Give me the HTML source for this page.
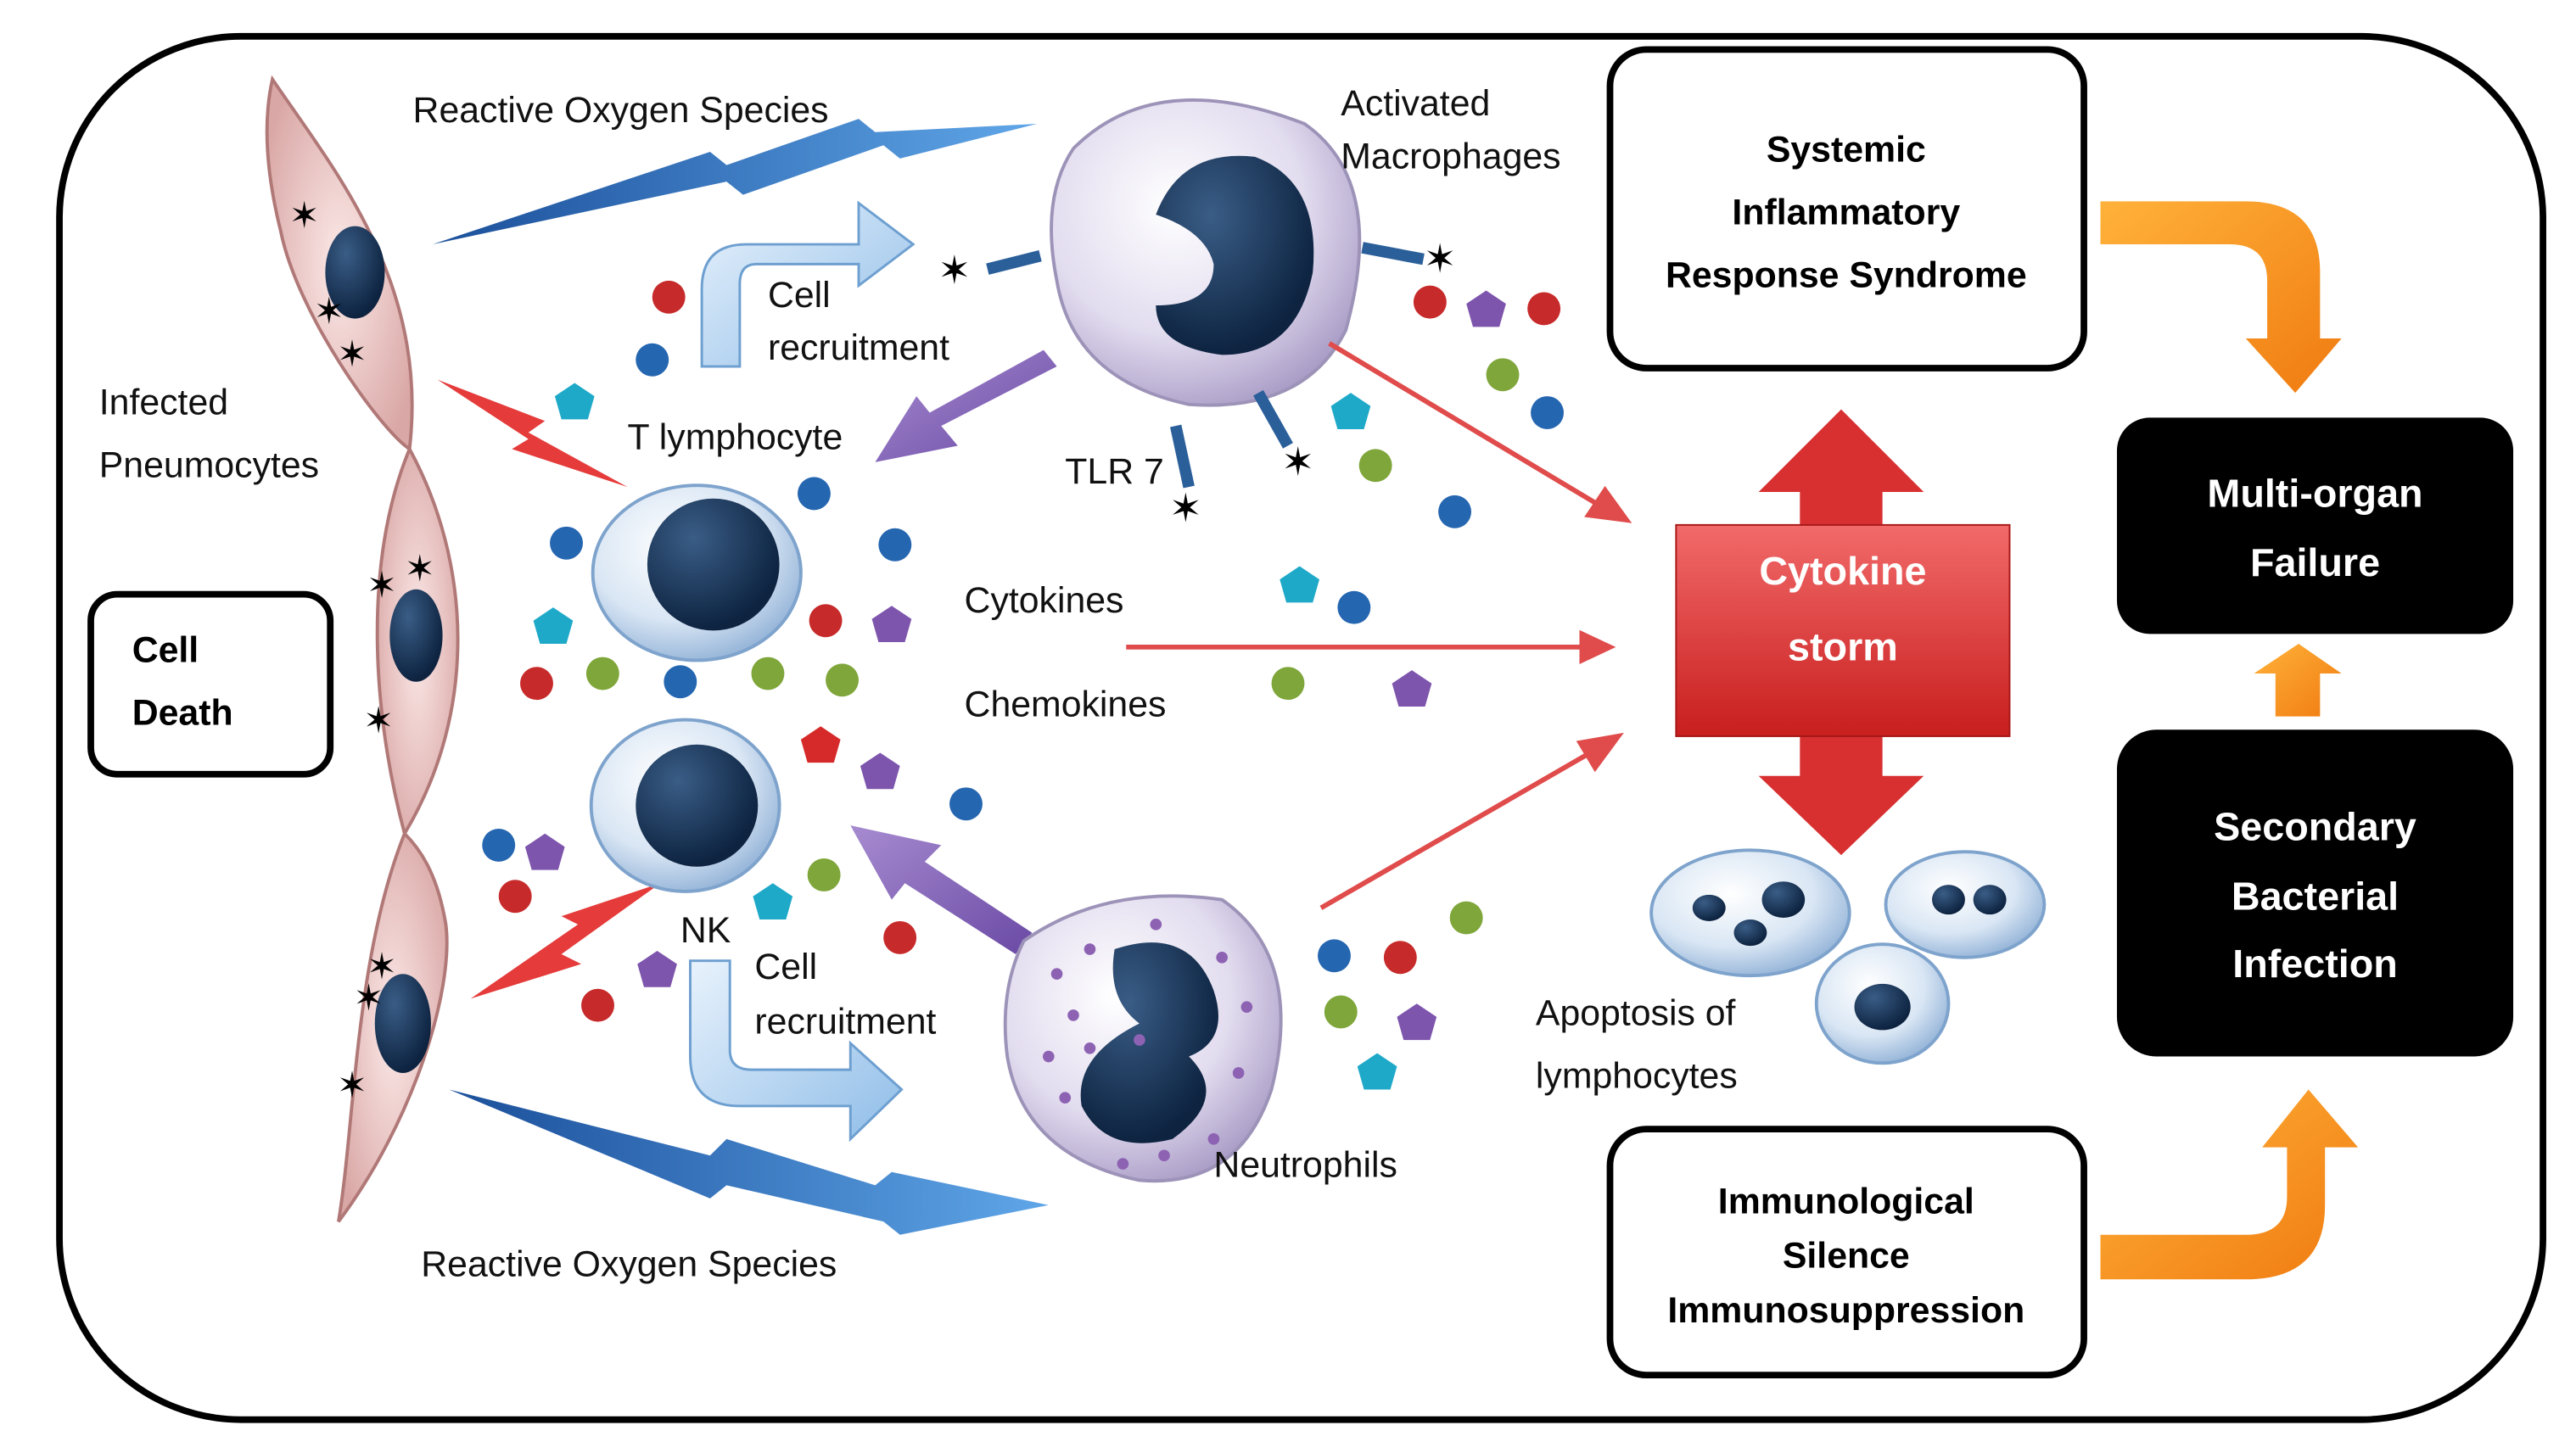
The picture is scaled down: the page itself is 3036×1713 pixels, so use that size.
<!DOCTYPE html>
<html><head><meta charset="utf-8"><style>
html,body{margin:0;padding:0;background:#fff}
svg{display:block}
text{font-family:"Liberation Sans",sans-serif}
</style></head><body>
<svg width="3036" height="1713" viewBox="0 0 1560 880.2" preserveAspectRatio="none" xmlns="http://www.w3.org/2000/svg">
<defs>
<radialGradient id="cellg" cx="40%" cy="35%" r="70%"><stop offset="0" stop-color="#fff"/><stop offset="0.6" stop-color="#d9e6f4"/><stop offset="1" stop-color="#8fb0d6"/></radialGradient>
<radialGradient id="macg" cx="40%" cy="35%" r="70%"><stop offset="0" stop-color="#fff"/><stop offset="0.6" stop-color="#e2dcef"/><stop offset="1" stop-color="#a99cc6"/></radialGradient>
<radialGradient id="pinkg" cx="50%" cy="50%" r="60%"><stop offset="0" stop-color="#fbe9e8"/><stop offset="1" stop-color="#d9a7a5"/></radialGradient>
<radialGradient id="nuc" cx="35%" cy="30%" r="70%"><stop offset="0" stop-color="#3a5d86"/><stop offset="1" stop-color="#0d2340"/></radialGradient>
<linearGradient id="redg" x1="0" y1="0" x2="0" y2="1"><stop offset="0" stop-color="#f26a6a"/><stop offset="1" stop-color="#c81e1e"/></linearGradient>
<linearGradient id="blueg" x1="0" y1="0" x2="1" y2="0"><stop offset="0" stop-color="#1b4f9a"/><stop offset="1" stop-color="#5fa6e8"/></linearGradient>
<linearGradient id="ltb" x1="0" y1="0" x2="1" y2="1"><stop offset="0" stop-color="#e8f2fc"/><stop offset="1" stop-color="#8fbde8"/></linearGradient>
<linearGradient id="org" x1="0" y1="0" x2="1" y2="1"><stop offset="0" stop-color="#ffb23a"/><stop offset="1" stop-color="#f07b10"/></linearGradient>
<linearGradient id="purp" x1="0" y1="0" x2="1" y2="1"><stop offset="0" stop-color="#a78bd0"/><stop offset="1" stop-color="#6a4aa5"/></linearGradient>
</defs>
<rect x="36" y="22" width="1504" height="838" rx="110" fill="#fff" stroke="#000" stroke-width="4"/>

<!-- pneumocytes -->
<g fill="url(#pinkg)" stroke="#b07877" stroke-width="2">
<path d="M165 48 C200 100 260 170 248 272 C230 260 180 190 170 140 C160 100 160 70 165 48Z"/>
<path d="M248 272 C285 340 290 430 245 505 C225 430 220 340 248 272Z"/>
<path d="M245 505 C215 580 215 680 205 740 C250 680 275 600 270 560 C265 530 255 515 245 505Z"/>
</g>
<g fill="url(#nuc)"><ellipse cx="215" cy="165" rx="18" ry="28"/><ellipse cx="252" cy="385" rx="16" ry="28"/><ellipse cx="244" cy="620" rx="17" ry="30"/></g>
<g font-size="22" fill="#000"><text x="175" y="138">✶</text><text x="190" y="196">✶</text><text x="204" y="222">✶</text><text x="222" y="362">✶</text><text x="245" y="352">✶</text><text x="220" y="444">✶</text><text x="222" y="593">✶</text><text x="214" y="612">✶</text><text x="204" y="665">✶</text></g>

<!-- ROS bolts -->
<path d="M262 148 L430 92 L440 100 L520 72 L530 80 L628 75 L545 96 L535 88 L450 118 L440 110Z" fill="url(#blueg)"/>
<path d="M272 660 L430 700 L440 690 L530 718 L540 710 L635 730 L545 748 L535 740 L440 718 L430 726Z" fill="url(#blueg)"/>

<!-- lightning -->
<path d="M265 230 L330 255 L320 262 L380 295 L310 272 L320 266Z" fill="#e53b3b"/>
<path d="M285 605 L350 560 L340 555 L400 535 L340 578 L352 584Z" fill="#e53b3b"/>

<!-- cell recruitment arrows -->
<path d="M425 222 L425 175 Q425 148 452 148 L520 148 L520 123 L553 148 L520 173 L520 160 L458 160 Q448 160 448 172 L448 222Z" fill="url(#ltb)" stroke="#6d9fd0" stroke-width="1.5"/>
<path d="M418 582 L418 640 Q418 670 448 670 L515 670 L515 690 L546 660 L515 632 L515 648 L455 648 Q442 648 442 636 L442 582Z" fill="url(#ltb)" stroke="#6d9fd0" stroke-width="1.5"/>

<!-- purple arrows -->
<path d="M640 222 L570 258 L580 270 L530 280 L555 240 L563 250 L632 212Z" fill="url(#purp)"/>
<path d="M625 565 L560 522 L570 512 L515 500 L540 545 L548 535 L615 578Z" fill="url(#purp)"/>

<!-- macrophage -->
<path d="M650 90 Q700 40 790 75 Q840 110 815 200 Q790 250 720 245 Q650 230 640 170 Q630 120 650 90Z" fill="url(#macg)" stroke="#9d93b8" stroke-width="2"/>
<path d="M700 130 Q715 90 760 95 Q800 110 795 165 Q785 215 740 215 Q700 210 700 185 Q735 185 735 160 Q730 140 700 130Z" fill="url(#nuc)"/>
<g stroke="#2b5f9a" stroke-width="7"><line x1="630" y1="155" x2="598" y2="163"/><line x1="825" y1="150" x2="862" y2="157"/><line x1="712" y1="258" x2="720" y2="295"/><line x1="762" y1="238" x2="780" y2="270"/></g>
<g font-size="24"><text x="568" y="172">✶</text><text x="862" y="165">✶</text><text x="708" y="316">✶</text><text x="776" y="288">✶</text></g>

<!-- T lymphocyte -->
<ellipse cx="422" cy="347" rx="63" ry="53" fill="url(#cellg)" stroke="#7ea3cc" stroke-width="2"/>
<circle cx="432" cy="342" r="40" fill="url(#nuc)"/>
<!-- NK -->
<ellipse cx="415" cy="488" rx="57" ry="52" fill="url(#cellg)" stroke="#7ea3cc" stroke-width="2"/>
<circle cx="422" cy="488" r="37" fill="url(#nuc)"/>
<!-- neutrophil -->
<path d="M620 570 Q670 535 740 545 Q790 580 770 660 Q750 720 690 715 Q620 700 610 640 Q605 600 620 570Z" fill="url(#macg)" stroke="#9d93b8" stroke-width="2"/>
<path d="M675 575 Q720 560 735 600 Q745 630 720 640 Q745 665 710 690 Q670 700 655 670 Q650 640 690 620 Q670 605 675 575Z" fill="url(#nuc)"/>
<g fill="#8d62b3">
<circle cx="640" cy="590" r="3.5"/><circle cx="660" cy="575" r="3.5"/><circle cx="650" cy="615" r="3.5"/><circle cx="635" cy="640" r="3.5"/><circle cx="660" cy="635" r="3.5"/><circle cx="740" cy="580" r="3.5"/><circle cx="755" cy="610" r="3.5"/><circle cx="750" cy="650" r="3.5"/><circle cx="735" cy="690" r="3.5"/><circle cx="705" cy="700" r="3.5"/><circle cx="680" cy="705" r="3.5"/><circle cx="690" cy="630" r="3.5"/><circle cx="645" cy="665" r="3.5"/><circle cx="700" cy="560" r="3.5"/></g>

<!-- apoptotic cells -->
<g fill="url(#cellg)" stroke="#7ea3cc" stroke-width="2">
<ellipse cx="1060" cy="553" rx="60" ry="38"/><ellipse cx="1190" cy="548" rx="48" ry="32"/><ellipse cx="1140" cy="608" rx="40" ry="36"/></g>
<g fill="url(#nuc)"><ellipse cx="1035" cy="550" rx="10" ry="8"/><ellipse cx="1080" cy="545" rx="13" ry="11"/><ellipse cx="1060" cy="565" rx="10" ry="8"/><ellipse cx="1180" cy="545" rx="10" ry="9"/><ellipse cx="1205" cy="545" rx="10" ry="9"/><ellipse cx="1140" cy="610" rx="17" ry="14"/></g>

<!-- red thin arrows -->
<g stroke="#e04b4b" stroke-width="3" fill="#e04b4b">
<line x1="805" y1="208" x2="975" y2="310"/><path d="M985 315 L962 312 L972 297Z"/>
<line x1="682" y1="392" x2="965" y2="392"/><path d="M975 392 L958 384 L958 400Z"/>
<line x1="800" y1="550" x2="970" y2="452"/><path d="M980 446 L957 450 L966 465Z"/>
</g>

<!-- Cytokine storm -->
<path d="M1115 248 L1165 298 L1140 298 L1140 470 L1165 470 L1115 518 L1065 470 L1090 470 L1090 298 L1065 298Z" fill="#d83030"/>
<rect x="1015" y="318" width="202" height="128" fill="url(#redg)" stroke="#a81818"/>
<text x="1116" y="354" font-size="24" font-weight="bold" fill="#fff" text-anchor="middle">Cytokine</text>
<text x="1116" y="400" font-size="24" font-weight="bold" fill="#fff" text-anchor="middle">storm</text>

<!-- molecules -->
<g stroke="none">
<g fill="#c72a2a"><circle cx="405" cy="180" r="10"/><circle cx="866" cy="183" r="10"/><circle cx="935" cy="187" r="10"/><circle cx="500" cy="376" r="10"/><circle cx="325" cy="414" r="10"/><circle cx="312" cy="543" r="10"/><circle cx="545" cy="568" r="10"/><circle cx="362" cy="609" r="10"/><circle cx="848" cy="580" r="10"/></g>
<g fill="#2566b0"><circle cx="395" cy="218" r="10"/><circle cx="937" cy="250" r="10"/><circle cx="881" cy="310" r="10"/><circle cx="493" cy="299" r="10"/><circle cx="542" cy="330" r="10"/><circle cx="343" cy="329" r="10"/><circle cx="412" cy="413" r="10"/><circle cx="820" cy="368" r="10"/><circle cx="585" cy="487" r="10"/><circle cx="302" cy="512" r="10"/><circle cx="808" cy="579" r="10"/></g>
<g fill="#7fa63a"><circle cx="910" cy="227" r="10"/><circle cx="833" cy="282" r="10"/><circle cx="365" cy="408" r="10"/><circle cx="465" cy="408" r="10"/><circle cx="510" cy="412" r="10"/><circle cx="780" cy="414" r="10"/><circle cx="499" cy="530" r="10"/><circle cx="888" cy="556" r="10"/><circle cx="812" cy="613" r="10"/></g>
</g>
<g fill="#1ea9c9"><polygon points="348,232 360,240 356,254 340,254 336,240"/><polygon points="818,238 830,246 826,260 810,260 806,246"/><polygon points="335,368 347,376 343,390 327,390 323,376"/><polygon points="787,343 799,351 795,365 779,365 775,351"/><polygon points="468,535 480,543 476,557 460,557 456,543"/><polygon points="834,638 846,646 842,660 826,660 822,646"/></g>
<g fill="#7e55ad"><polygon points="900,176 912,184 908,198 892,198 888,184"/><polygon points="540,367 552,375 548,389 532,389 528,375"/><polygon points="533,456 545,464 541,478 525,478 521,464"/><polygon points="330,505 342,513 338,527 322,527 318,513"/><polygon points="398,576 410,584 406,598 390,598 386,584"/><polygon points="855,406 867,414 863,428 847,428 843,414"/><polygon points="858,608 870,616 866,630 850,630 846,616"/></g>
<polygon points="497,440 509,448 505,462 489,462 485,448" fill="#d62a2a"/>

<!-- labels -->
<g font-size="22" fill="#111">
<text x="250" y="74">Reactive Oxygen Species</text>
<text x="255" y="773">Reactive Oxygen Species</text>
<text x="812" y="70">Activated</text><text x="812" y="102">Macrophages</text>
<text x="465" y="186">Cell</text><text x="465" y="218">recruitment</text>
<text x="457" y="593">Cell</text><text x="457" y="626">recruitment</text>
<text x="60" y="251">Infected</text><text x="60" y="289">Pneumocytes</text>
<text x="380" y="272">T lymphocyte</text>
<text x="645" y="293">TLR 7</text>
<text x="584" y="371">Cytokines</text>
<text x="584" y="434">Chemokines</text>
<text x="412" y="571">NK</text>
<text x="735" y="713">Neutrophils</text>
<text x="930" y="621">Apoptosis of</text><text x="930" y="659">lymphocytes</text>
</g>

<!-- boxes -->
<rect x="55" y="360" width="145" height="109" rx="16" fill="#fff" stroke="#000" stroke-width="4"/>
<g font-size="22" font-weight="bold"><text x="80" y="401">Cell</text><text x="80" y="439">Death</text></g>
<rect x="975" y="30" width="287" height="193" rx="22" fill="#fff" stroke="#000" stroke-width="4"/>
<g font-size="22" font-weight="bold" text-anchor="middle"><text x="1118" y="98">Systemic</text><text x="1118" y="136">Inflammatory</text><text x="1118" y="174">Response Syndrome</text></g>
<rect x="975" y="684" width="287" height="149" rx="22" fill="#fff" stroke="#000" stroke-width="4"/>
<g font-size="22" font-weight="bold" text-anchor="middle"><text x="1118" y="735">Immunological</text><text x="1118" y="768">Silence</text><text x="1118" y="801">Immunosuppression</text></g>
<rect x="1282" y="253" width="240" height="131" rx="20" fill="#000"/>
<g font-size="24" font-weight="bold" fill="#fff" text-anchor="middle"><text x="1402" y="307">Multi-organ</text><text x="1402" y="349">Failure</text></g>
<rect x="1282" y="442" width="240" height="198" rx="24" fill="#000"/>
<g font-size="24" font-weight="bold" fill="#fff" text-anchor="middle"><text x="1402" y="509">Secondary</text><text x="1402" y="551">Bacterial</text><text x="1402" y="592">Infection</text></g>

<!-- orange arrows -->
<path d="M1272 122 L1360 122 Q1405 122 1405 165 L1405 205 L1418 205 L1390 238 L1360 205 L1373 205 L1373 170 Q1373 148 1350 148 L1272 148Z" fill="url(#org)"/>
<path d="M1378 434 L1378 408 L1365 408 L1392 390 L1418 408 L1405 408 L1405 434Z" fill="url(#org)"/>
<path d="M1272 775 L1360 775 Q1408 775 1408 730 L1408 695 L1428 695 L1398 660 L1370 695 L1385 695 L1385 725 Q1385 748 1360 748 L1272 748Z" fill="url(#org)"/>
</svg>
</body></html>
